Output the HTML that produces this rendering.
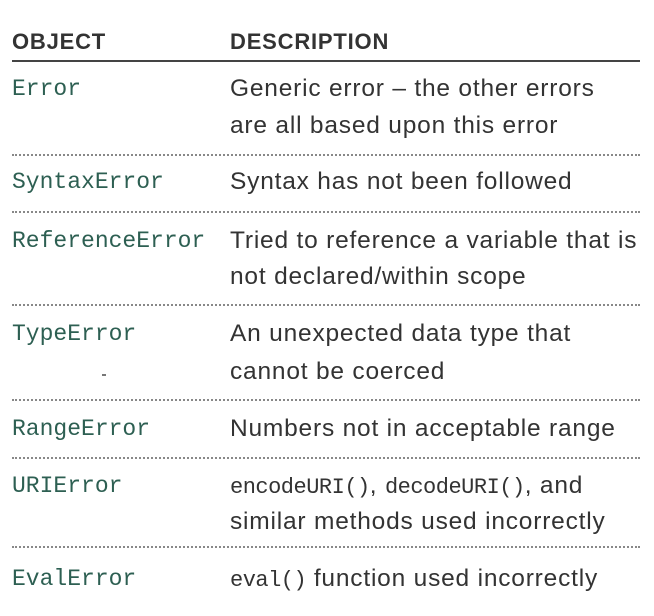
<!DOCTYPE html>
<html><head><meta charset="utf-8"><style>
body{margin:0;width:654px;height:616px;background:#fff;position:relative;overflow:hidden}
.t{position:absolute;height:30px;line-height:30px;white-space:nowrap}
.h{font-family:"Liberation Sans",sans-serif;font-size:22px;font-weight:bold;color:#333;letter-spacing:0.8px}
.m{font-family:"Liberation Mono",monospace;font-size:23px;color:#2d5f52;left:12px}
.d{font-family:"Liberation Sans",sans-serif;font-size:24.5px;color:#333;left:230px;letter-spacing:0.8px}
.d code{font-family:"Liberation Mono",monospace;font-size:22px;letter-spacing:-0.5px}
.dot{position:absolute;left:12px;width:628px;border-top:2px dotted #888;height:0}
</style></head><body>
<div class="t h" style="left:12px;top:27px">OBJECT</div>
<div class="t h" style="left:230px;top:27px">DESCRIPTION</div>
<div style="position:absolute;left:12px;top:60px;width:628px;height:2px;background:#444"></div>

<div class="t m" style="top:74px">Error</div>
<div class="t d" style="top:74px">Generic error – the other errors</div>
<div class="t d" style="top:111px">are all based upon this error</div>
<div class="dot" style="top:154px"></div>

<div class="t m" style="top:167px">SyntaxError</div>
<div class="t d" style="top:167px">Syntax has not been followed</div>
<div class="dot" style="top:211px"></div>

<div class="t m" style="top:226px">ReferenceError</div>
<div class="t d" style="top:226px">Tried to reference a variable that is</div>
<div class="t d" style="top:262px">not declared/within scope</div>
<div class="dot" style="top:304px"></div>

<div class="t m" style="top:319px">TypeError</div>
<div class="t d" style="top:319px">An unexpected data type that</div>
<div class="t d" style="top:357px">cannot be coerced</div>
<div style="position:absolute;left:102px;top:374px;width:4px;height:2px;background:#777"></div>
<div class="dot" style="top:399px"></div>

<div class="t m" style="top:414px">RangeError</div>
<div class="t d" style="top:414px">Numbers not in acceptable range</div>
<div class="dot" style="top:457px"></div>

<div class="t m" style="top:471px">URIError</div>
<div class="t d" style="top:471px"><code>encodeURI()</code>, <code>decodeURI()</code>, and</div>
<div class="t d" style="top:507px">similar methods used incorrectly</div>
<div class="dot" style="top:546px"></div>

<div class="t m" style="top:564px">EvalError</div>
<div class="t d" style="top:564px"><code>eval()</code> function used incorrectly</div>
</body></html>
